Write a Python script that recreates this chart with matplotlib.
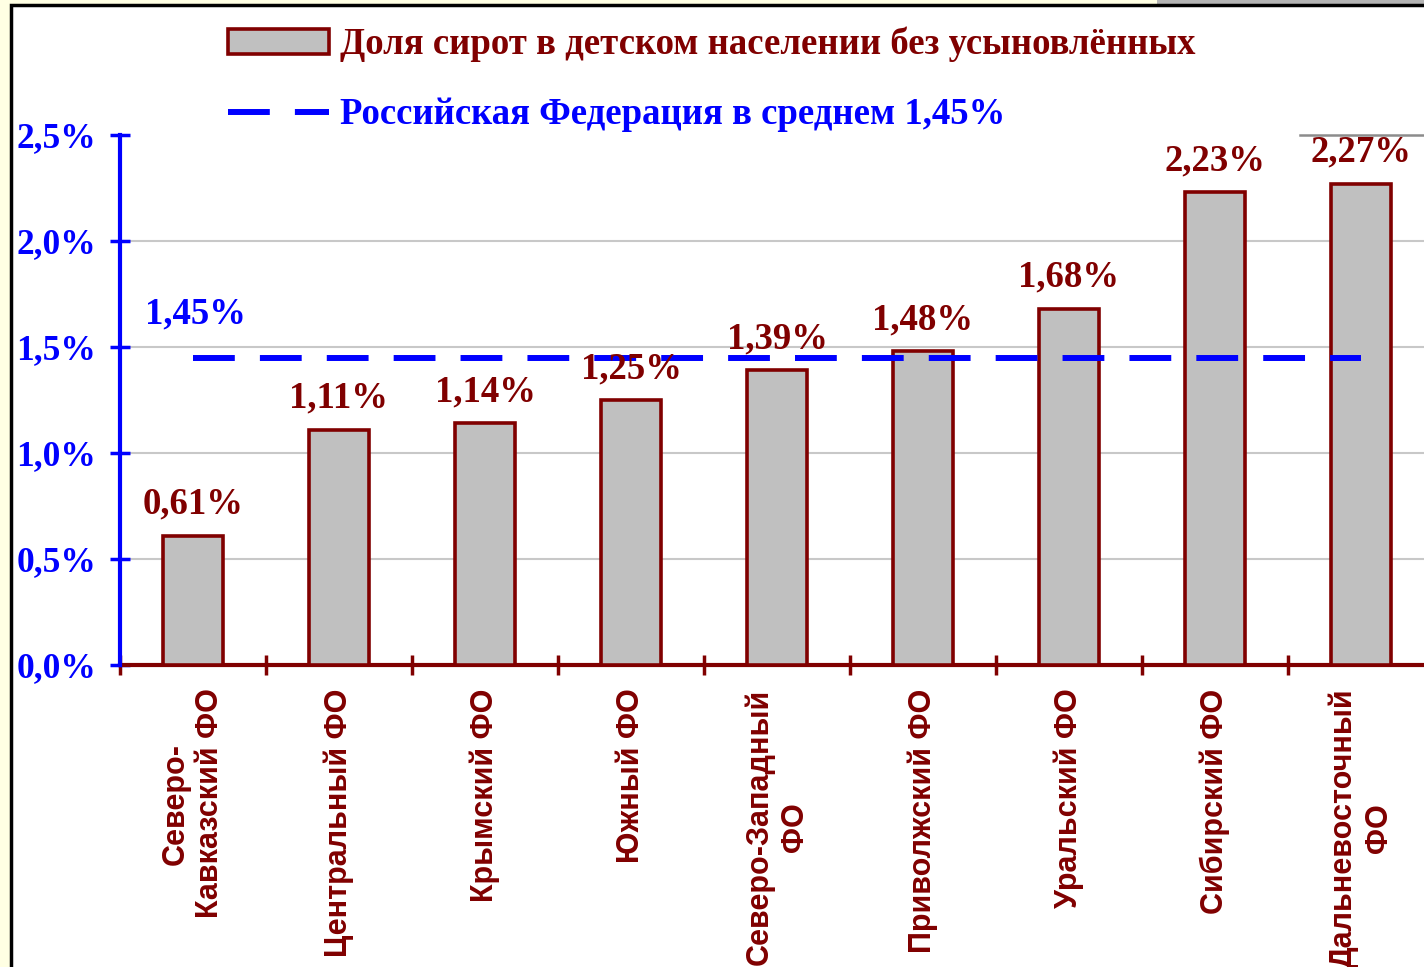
import matplotlib.pyplot as plt
from matplotlib.patches import Patch, Rectangle
from matplotlib.lines import Line2D

# Data
regions = ['Северо-\nКавказский ФО', 'Центральный ФО', 'Крымский ФО', 'Южный ФО',
           'Северо-Западный\nФО', 'Приволжский ФО', 'Уральский ФО', 'Сибирский ФО',
           'Дальневосточный\nФО']
shares = [0.61, 1.11, 1.14, 1.25, 1.39, 1.48, 1.68, 2.23, 2.27]
share_labels = ['0,61%', '1,11%', '1,14%', '1,25%', '1,39%', '1,48%', '1,68%', '2,23%', '2,27%']
rf_avg = 1.45
rf_label = '1,45%'
yticks = [0.0, 0.5, 1.0, 1.5, 2.0, 2.5]
ytick_labels = ['0,0%', '0,5%', '1,0%', '1,5%', '2,0%', '2,5%']

DARKRED = '#800000'
BLUE = '#0000FF'
SERIF = 'Liberation Serif'
SANS = 'Liberation Sans'

W, H = 1424, 967
fig = plt.figure(figsize=(W / 100, H / 100), dpi=100)
fig.patch.set_facecolor('#FFFFE3')

# slide frame
fig.add_artist(Rectangle((1157 / W, 1 - 5 / H), 1, 1, transform=fig.transFigure,
                         facecolor='#B4B4B4', edgecolor='none', zorder=0))
fig.add_artist(Rectangle((11 / W, -0.05), 1.2, 1.05 - 5 / H, transform=fig.transFigure,
                         facecolor='white', edgecolor='black', linewidth=2.5, zorder=0))

ax = fig.add_axes([120 / W, 1 - 665 / H, 1314 / W, 530 / H])
ax.set_facecolor('none')
x = list(range(len(regions)))

ax.bar(x, shares, width=0.41, color='#C0C0C0', edgecolor=DARKRED, linewidth=2.6, zorder=3)
ax.plot([x[0], x[-1]], [rf_avg, rf_avg], color=BLUE, linewidth=4.3,
        dashes=(7, 4.2), zorder=4)

for xi, v, lab in zip(x, shares, share_labels):
    ax.annotate(lab, (xi, v), xytext=(0, 10), textcoords='offset points',
                ha='center', va='bottom', color=DARKRED, fontsize=26.5,
                fontweight='bold', family=SERIF, zorder=5)
ax.annotate(rf_label, (x[0], rf_avg), xytext=(2, 19), textcoords='offset points',
            ha='center', va='bottom', color=BLUE, fontsize=26.5,
            fontweight='bold', family=SERIF, zorder=5)

ax.set_xlim(-0.5, len(regions) - 0.5)
ax.set_ylim(0, 2.5)

for g in yticks[1:-1]:
    ax.axhline(g, color='#C8C8C8', linewidth=1.5, zorder=1)
ax.axhline(yticks[-1], xmin=(1300 - 120) / 1314, color='#8C8C8C', linewidth=1.8,
           zorder=1, clip_on=False)

for s in ['top', 'right']:
    ax.spines[s].set_visible(False)
ax.spines['left'].set_color(BLUE)
ax.spines['left'].set_linewidth(3)
ax.spines['bottom'].set_color(DARKRED)
ax.spines['bottom'].set_linewidth(3)
ax.spines['left'].set_zorder(6)

ax.set_yticks(yticks)
ax.set_yticklabels(ytick_labels, color=BLUE, fontsize=25.5, fontweight='bold', family=SERIF)
ax.tick_params(axis='y', direction='inout', length=14, width=2.5, color=BLUE, pad=10)

ax.set_xticks(x)
ax.set_xticklabels(regions, rotation=90, ha='center', va='top', multialignment='center',
                   color=DARKRED, fontsize=22, fontweight='bold', family=SANS)
ax.set_xticks([i - 0.5 for i in x], minor=True)
ax.tick_params(axis='x', which='major', length=0, pad=17)
ax.tick_params(axis='x', which='minor', direction='inout', length=14, width=2.5, color=DARKRED)

handles = [Patch(facecolor='#C0C0C0', edgecolor=DARKRED, linewidth=2.6),
           Line2D([], [], color=BLUE, linewidth=4.3, dashes=(7, 4.2))]
labels = ['Доля сирот в детском населении без усыновлённых',
          'Российская Федерация в среднем 1,45%']
leg = fig.legend(handles, labels, loc='upper left', bbox_to_anchor=(228 / W, 1 - 27 / H),
                 frameon=False, borderpad=0, borderaxespad=0, handlelength=2.75,
                 handleheight=0.66, handletextpad=0.3, labelspacing=0.95,
                 prop={'family': SERIF, 'weight': 'bold', 'size': 26.5},
                 labelcolor=[DARKRED, BLUE])

fig.savefig('out.png', dpi=100)
